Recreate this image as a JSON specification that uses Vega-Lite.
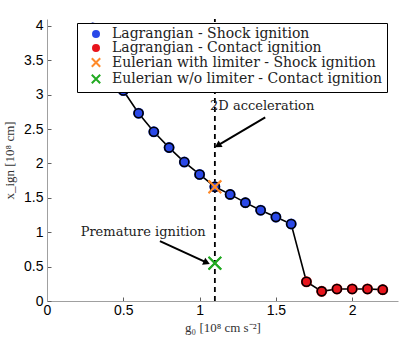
{
  "$schema": "https://vega.github.io/schema/vega-lite/v6.json",
  "width": 351,
  "height": 282,
  "autosize": {"type": "none"},
  "padding": {"left": 47, "top": 19, "right": 17, "bottom": 40},
  "config": {
    "view": {"stroke": null},
    "font": "Liberation Sans",
    "axis": {
      "grid": false,
      "domainColor": "#a0a0a0",
      "tickColor": "#606060",
      "tickSize": -4,
      "labelFontSize": 14,
      "labelColor": "black",
      "labelFont": "Liberation Sans",
      "labelOverlap": false,
      "labelFlush": false,
      "labelBound": false,
      "titleFont": "Liberation Serif",
      "titleFontSize": 13,
      "titleFontWeight": "normal",
      "titleColor": "#333333"
    },
    "legend": {"labelLimit": 0}
  },
  "datasets": {
    "main": [
      {"series": "Lagrangian - Shock ignition", "g": 0.3, "x": 3.97},
      {"series": "Lagrangian - Shock ignition", "g": 0.4, "x": 3.45},
      {"series": "Lagrangian - Shock ignition", "g": 0.5, "x": 3.06},
      {"series": "Lagrangian - Shock ignition", "g": 0.6, "x": 2.73},
      {"series": "Lagrangian - Shock ignition", "g": 0.7, "x": 2.46},
      {"series": "Lagrangian - Shock ignition", "g": 0.8, "x": 2.23},
      {"series": "Lagrangian - Shock ignition", "g": 0.9, "x": 2.02},
      {"series": "Lagrangian - Shock ignition", "g": 1.0, "x": 1.84},
      {"series": "Lagrangian - Shock ignition", "g": 1.1, "x": 1.66},
      {"series": "Lagrangian - Shock ignition", "g": 1.2, "x": 1.55},
      {"series": "Lagrangian - Shock ignition", "g": 1.3, "x": 1.43},
      {"series": "Lagrangian - Shock ignition", "g": 1.4, "x": 1.32},
      {"series": "Lagrangian - Shock ignition", "g": 1.5, "x": 1.22},
      {"series": "Lagrangian - Shock ignition", "g": 1.6, "x": 1.12},
      {"series": "Lagrangian - Contact ignition", "g": 1.7, "x": 0.28},
      {"series": "Lagrangian - Contact ignition", "g": 1.8, "x": 0.14},
      {"series": "Lagrangian - Contact ignition", "g": 1.9, "x": 0.175},
      {"series": "Lagrangian - Contact ignition", "g": 2.0, "x": 0.175},
      {"series": "Lagrangian - Contact ignition", "g": 2.1, "x": 0.175},
      {"series": "Lagrangian - Contact ignition", "g": 2.2, "x": 0.165},
      {"series": "Eulerian with limiter - Shock ignition", "g": 1.1, "x": 1.66},
      {"series": "Eulerian w/o limiter - Contact ignition", "g": 1.1, "x": 0.55}
    ],
    "arrows": [
      {"label": "2D acceleration", "g": 1.43, "x": 2.67, "g2": 1.125, "x2": 2.27},
      {"label": "Premature ignition", "g": 0.74, "x": 0.87, "g2": 1.04, "x2": 0.565}
    ],
    "tips": [
      {"label": "2D acceleration", "g": 1.125, "x": 2.27},
      {"label": "Premature ignition", "g": 1.04, "x": 0.565}
    ],
    "texts": [
      {"label": "2D acceleration", "g": 1.41, "x": 2.83},
      {"label": "Premature ignition", "g": 0.63, "x": 1.0}
    ]
  },
  "encoding": {
    "x": {
      "field": "g", "type": "quantitative",
      "scale": {"domain": [0, 2.3], "nice": false},
      "axis": {"values": [0, 0.5, 1, 1.5, 2], "labelExpr": "'' + datum.value", "labelPadding": 6, "title": "g₀ [10⁸ cm s⁻²]", "titlePadding": 4}
    },
    "y": {
      "field": "x", "type": "quantitative",
      "scale": {"domain": [0, 4.1], "nice": false},
      "axis": {"values": [0, 0.5, 1, 1.5, 2, 2.5, 3, 3.5, 4], "labelExpr": "'' + datum.value", "labelPadding": 8, "title": "x_ign [10⁸ cm]", "titlePadding": 7}
    }
  },
  "layer": [
    {
      "data": {"values": [{"g": 1.1, "x": 0, "x2": 4.1}]},
      "mark": {"type": "rule", "strokeDash": [5, 4], "strokeWidth": 1.8, "color": "black"},
      "encoding": {"y2": {"field": "x2"}}
    },
    {
      "data": {"name": "main"},
      "transform": [{"filter": "indexof(datum.series, 'Lagrangian') === 0"}],
      "mark": {"type": "line", "color": "black", "strokeWidth": 1.6},
      "encoding": {"order": {"field": "g"}}
    },
    {
      "data": {"name": "main"},
      "mark": {"type": "point", "filled": true, "size": 81, "strokeWidth": 2, "opacity": 1},
      "encoding": {
        "fill": {
          "field": "series", "type": "nominal",
          "scale": {
            "domain": ["Lagrangian - Shock ignition", "Lagrangian - Contact ignition", "Eulerian with limiter - Shock ignition", "Eulerian w/o limiter - Contact ignition"],
            "range": ["#2a48e8", "#e8141c", "transparent", "transparent"]
          },
          "legend": {
            "title": null, "orient": "none", "legendX": 30, "legendY": 4,
            "fillColor": "white", "strokeColor": "black", "padding": 4, "rowPadding": -1.5, "labelLimit": 0,
            "labelFont": "DejaVu Serif", "labelFontSize": 14, "labelColor": "#222222",
            "symbolSize": 36, "symbolOffset": 8, "labelOffset": 9, "symbolStrokeWidth": 2
          }
        },
        "stroke": {
          "field": "series", "type": "nominal",
          "scale": {
            "domain": ["Lagrangian - Shock ignition", "Lagrangian - Contact ignition", "Eulerian with limiter - Shock ignition", "Eulerian w/o limiter - Contact ignition"],
            "range": ["#2a48e8", "#e8141c", "#ff8a2a", "#22aa22"]
          },
          "legend": {
            "title": null, "orient": "none", "legendX": 30, "legendY": 4,
            "fillColor": "white", "strokeColor": "black", "padding": 4, "rowPadding": -1.5, "labelLimit": 0,
            "labelFont": "DejaVu Serif", "labelFontSize": 14, "labelColor": "#222222",
            "symbolSize": 36, "symbolOffset": 8, "labelOffset": 9, "symbolStrokeWidth": 2
          }
        },
        "shape": {
          "field": "series", "type": "nominal",
          "scale": {
            "domain": ["Lagrangian - Shock ignition", "Lagrangian - Contact ignition", "Eulerian with limiter - Shock ignition", "Eulerian w/o limiter - Contact ignition"],
            "range": ["circle", "circle", "M-1.4,-1.4L1.4,1.4M-1.4,1.4L1.4,-1.4", "M-1.4,-1.4L1.4,1.4M-1.4,1.4L1.4,-1.4"]
          },
          "legend": {
            "title": null, "orient": "none", "legendX": 30, "legendY": 4,
            "fillColor": "white", "strokeColor": "black", "padding": 4, "rowPadding": -1.5, "labelLimit": 0,
            "labelFont": "DejaVu Serif", "labelFontSize": 14, "labelColor": "#222222",
            "symbolSize": 36, "symbolOffset": 8, "labelOffset": 9, "symbolStrokeWidth": 2
          }
        }
      }
    },
    {
      "data": {"name": "main"},
      "transform": [{"filter": "indexof(datum.series, 'Lagrangian') === 0"}],
      "mark": {"type": "point", "shape": "circle", "filled": false, "size": 81, "stroke": "black", "strokeWidth": 1.6, "opacity": 1}
    },
    {
      "data": {"name": "main"},
      "transform": [{"filter": "indexof(datum.series, 'Eulerian') === 0"}],
      "mark": {"type": "point", "shape": "M-1.4,-1.4L1.4,1.4M-1.4,1.4L1.4,-1.4", "filled": false, "size": 81, "strokeWidth": 2, "opacity": 1},
      "encoding": {
        "stroke": {"field": "series", "type": "nominal", "legend": null}
      }
    },
    {
      "data": {"name": "arrows"},
      "mark": {"type": "rule", "color": "black", "strokeWidth": 2},
      "encoding": {
        "x2": {"field": "g2"},
        "y2": {"field": "x2"}
      }
    },
    {
      "data": {"name": "tips"},
      "transform": [{"filter": "datum.label === '2D acceleration'"}],
      "mark": {"type": "point", "shape": "triangle", "filled": true, "color": "black", "size": 60, "angle": 239, "opacity": 1}
    },
    {
      "data": {"name": "tips"},
      "transform": [{"filter": "datum.label === 'Premature ignition'"}],
      "mark": {"type": "point", "shape": "triangle", "filled": true, "color": "black", "size": 60, "angle": 114, "opacity": 1}
    },
    {
      "data": {"name": "texts"},
      "mark": {"type": "text", "font": "DejaVu Serif", "fontSize": 13, "color": "#222222"},
      "encoding": {"text": {"field": "label"}}
    }
  ]
}
